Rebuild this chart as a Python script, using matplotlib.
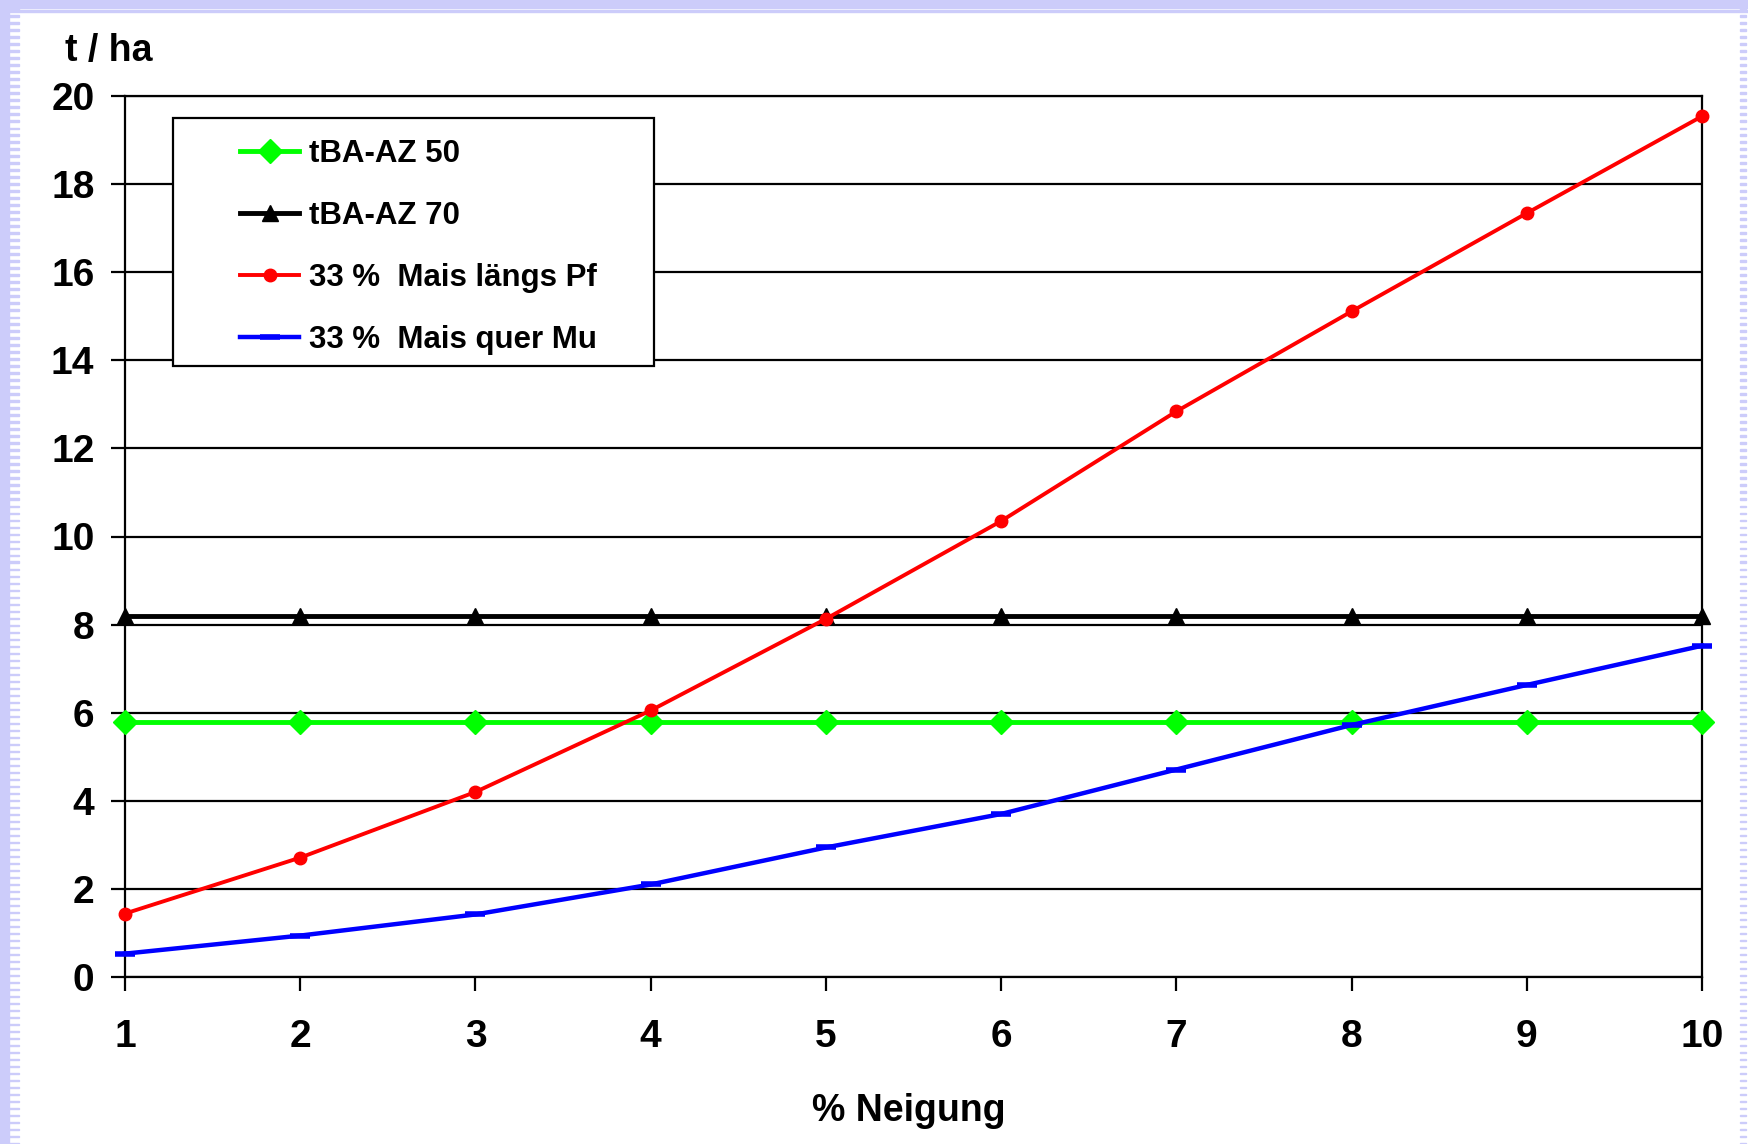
import matplotlib.pyplot as plt
from matplotlib.patches import Rectangle

plt.rcParams['font.family'] = ['Liberation Sans', 'DejaVu Sans']
plt.rcParams['font.weight'] = 'bold'

neigung = [1, 2, 3, 4, 5, 6, 7, 8, 9, 10]
az50 = [5.8] * 10
az70 = [8.2] * 10
mais_laengs = [1.44, 2.71, 4.2, 6.05, 8.13, 10.35, 12.84, 15.11, 17.34, 19.54]
mais_quer = [0.53, 0.94, 1.42, 2.1, 2.94, 3.7, 4.71, 5.72, 6.63, 7.52]
y_ticks = [0, 2, 4, 6, 8, 10, 12, 14, 16, 18, 20]

W, H = 1749, 1144
fig = plt.figure(figsize=(W / 100, H / 100), dpi=100)
fig.patch.set_facecolor('white')

# lavender slide frame
lav = '#ccccfa'
fig.add_artist(Rectangle((0, 1 - 6 / H), 1, 6 / H, transform=fig.transFigure, color=lav, zorder=0))
for yy in (8, 12):
    fig.add_artist(Rectangle((0, 1 - yy / H), 1, 1.5 / H, transform=fig.transFigure, color=lav, zorder=0))
fig.add_artist(Rectangle((0, 0), 9 / W, 1, transform=fig.transFigure, color=lav, zorder=0))
for k in range(0, H, 7):
    fig.add_artist(Rectangle((9 / W, k / H), 10 / W, 1.5 / H, transform=fig.transFigure, color=lav, zorder=0))
    fig.add_artist(Rectangle((1740 / W, k / H), 6 / W, 1.5 / H, transform=fig.transFigure, color=lav, zorder=0))

ax = fig.add_axes([125 / W, 1 - 977 / H, (1702 - 125) / W, (977 - 96) / H])
ax.set_xlim(1, 10)
ax.set_ylim(0, 20)
ax.set_yticks(y_ticks)
ax.set_xticks(neigung)
ax.grid(axis='y', color='black', linewidth=1.6)
ax.set_axisbelow(True)
for s in ax.spines.values():
    s.set_linewidth(1.6)
ax.tick_params(axis='both', direction='out', length=10, width=1.6, labelsize=28)
ax.tick_params(axis='x', pad=20)
ax.tick_params(axis='y', pad=12)
for lab in ax.get_xticklabels() + ax.get_yticklabels():
    lab.set_fontweight('bold')

ax.plot(neigung, az50, color='#00ff00', lw=3.5, marker='D', ms=12, label='tBA-AZ 50', clip_on=False, zorder=3)
ax.plot(neigung, az70, color='black', lw=3.5, marker='^', ms=11, label='tBA-AZ 70', clip_on=False, zorder=3)
ax.plot(neigung, mais_laengs, color='red', lw=2.8, marker='o', ms=9, label='33 %  Mais längs Pf', clip_on=False, zorder=4)
ax.plot(neigung, mais_quer, color='blue', lw=3.2, marker='_', ms=14, mew=4, label='33 %  Mais quer Mu', clip_on=False, zorder=4)

# legend box drawn separately so the entries can sit indented inside it
ax.add_patch(Rectangle((173 / W, 1 - 366 / H), (654 - 173) / W, (366 - 118) / H,
                       transform=fig.transFigure, facecolor='white', edgecolor='black',
                       linewidth=1.6, zorder=5, clip_on=False))
leg = ax.legend(loc='upper left', bbox_to_anchor=(240 / W, 1 - 139 / H), bbox_transform=fig.transFigure,
                prop={'weight': 'bold', 'size': 22.5}, frameon=False,
                borderpad=0, labelspacing=1.02, handlelength=1.9, handletextpad=0.3, borderaxespad=0)
leg.set_zorder(6)

fig.text(65 / W, 1 - 51 / H, 't / ha', fontsize=27, fontweight='bold', ha='left', va='center')
fig.text(909 / W, 1 - 1111 / H, '% Neigung', fontsize=27, fontweight='bold', ha='center', va='center')

fig.savefig('out.png', dpi=100)
